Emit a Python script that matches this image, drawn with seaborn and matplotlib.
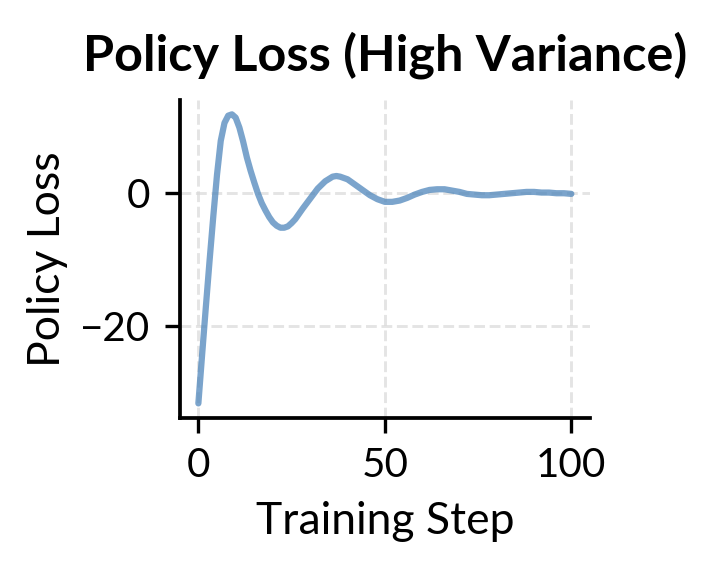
import numpy as np
import pandas as pd
import matplotlib
matplotlib.use("Agg")
import matplotlib.pyplot as plt
import seaborn as sns

# values
steps = [0, 1, 2, 3, 4, 5, 6, 7, 8, 9, 10, 11, 12, 13, 14, 15, 16, 17, 18, 19,
         20, 21, 22, 23, 24, 25, 26, 28, 30, 32, 34, 36, 37, 38, 40, 42, 44, 46,
         48, 50, 52, 54, 56, 58, 60, 62, 64, 66, 68, 70, 72, 74, 76, 78, 80, 82,
         84, 86, 88, 90, 92, 94, 96, 98, 100]
loss = [-31.7, -24.4, -17.2, -10.2, -3.5, 2.8, 7.9, 10.6, 11.7, 11.9, 11.4, 9.9,
        7.8, 5.4, 3.4, 1.6, -0.1, -1.5, -2.6, -3.6, -4.4, -4.9, -5.2, -5.2, -5.0,
        -4.5, -3.9, -2.3, -0.8, 0.7, 1.8, 2.5, 2.6, 2.5, 2.1, 1.3, 0.5, -0.3,
        -0.9, -1.3, -1.3, -1.1, -0.7, -0.2, 0.2, 0.5, 0.6, 0.6, 0.4, 0.2, -0.1,
        -0.2, -0.3, -0.3, -0.2, -0.1, 0.0, 0.1, 0.2, 0.2, 0.1, 0.1, 0.0, 0.0, -0.1]

df = pd.DataFrame({"step": steps, "loss": loss})

sns.set_style("ticks")
plt.rcParams["font.family"] = ["Lato", "DejaVu Sans"]
plt.rcParams["text.color"] = "black"
plt.rcParams["axes.labelcolor"] = "black"
plt.rcParams["xtick.color"] = "black"
plt.rcParams["ytick.color"] = "black"
plt.rcParams["axes.edgecolor"] = "black"

fig = plt.figure(figsize=(716 / 300, 574 / 300), dpi=300)
ax = fig.add_axes([0.251, 0.272, 0.573, 0.554])

sns.lineplot(data=df, x="step", y="loss", ax=ax, color="#4f86bb", alpha=0.75, linewidth=1.5)

ax.set_title("Policy Loss (High Variance)", fontsize=12.1, fontweight="bold", pad=7)
ax.set_xlabel("Training Step", fontsize=10.7)
ax.set_ylabel("Policy Loss", fontsize=10.7, labelpad=3)
ax.set_xticks([0, 50, 100])
ax.set_yticks([0, -20])
ax.tick_params(labelsize=9.7, length=3.5, width=0.8)
ax.grid(True, linestyle="--", color="#d9d9d9", linewidth=0.7, alpha=0.7)
sns.despine(ax=ax)
for s in ["left", "bottom"]:
    ax.spines[s].set_linewidth(0.9)

fig.savefig("out.png", dpi=300)
